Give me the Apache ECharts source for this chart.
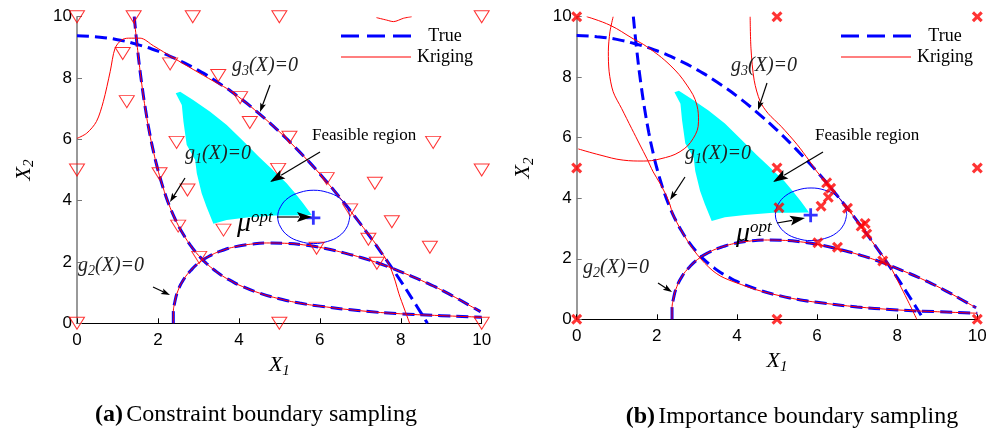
<!DOCTYPE html>
<html>
<head>
<meta charset="utf-8">
<script src="https://cdn.jsdelivr.net/npm/echarts@6/dist/echarts.min.js"></script>
<style>
	html, body { margin: 0; padding: 0; background: #fff; }
	#chart { width: 992px; height: 430px; }
</style>
</head>
<body>
<div id="chart"></div>
<script>
// axis ticks
const ticks = [0, 2, 4, 6, 8, 10];

// true limit state curves (x1, x2)
const g1True = [[1.414, 10], [1.5, 8.89], [1.6, 7.81], [1.7, 6.92], [1.8, 6.17], [1.9, 5.54], [2.0, 5.0], [2.1, 4.54], [2.2, 4.13], [2.3, 3.78], [2.4, 3.47], [2.5, 3.2], [2.6, 2.96], [2.8, 2.55], [3.0, 2.22], [3.2, 1.95], [3.4, 1.73], [3.6, 1.54], [3.8, 1.39], [4.0, 1.25], [4.5, 0.99], [5, 0.8], [5.5, 0.66], [6, 0.56], [7, 0.41], [8, 0.31], [9, 0.25], [10, 0.2]];
const g2True = [[2.38, 0], [2.38, 0.31], [2.42, 0.71], [2.5, 1.08], [2.63, 1.42], [2.81, 1.72], [3.02, 1.98], [3.28, 2.2], [3.58, 2.37], [3.92, 2.5], [4.29, 2.58], [4.69, 2.62], [5.13, 2.61], [5.59, 2.56], [6.07, 2.46], [6.56, 2.31], [7.08, 2.12], [7.6, 1.89], [8.13, 1.61], [8.67, 1.3], [9.2, 0.95], [9.73, 0.56], [9.97, 0.38]];
const g3True = [[0, 9.375], [0.5, 9.34], [1, 9.25], [1.5, 9.09], [2, 8.875], [2.5, 8.59], [3, 8.25], [3.5, 7.84], [4, 7.375], [4.5, 6.84], [5, 6.25], [5.5, 5.59], [6, 4.875], [6.5, 4.09], [7, 3.25], [7.5, 2.34], [8, 1.375], [8.3, 0.76], [8.5, 0.34], [8.66, 0]];

// kriging curves, panel (a)
const krigA_g1 = [[1.41, 10], [1.5, 8.9], [1.6, 7.8], [1.7, 6.9], [1.8, 6.15], [1.9, 5.54], [2.0, 5.0], [2.1, 4.55], [2.2, 4.13], [2.3, 3.78], [2.4, 3.47], [2.5, 3.2], [2.6, 2.96], [2.8, 2.55], [3.0, 2.22], [3.2, 1.95], [3.4, 1.73], [3.6, 1.54], [3.8, 1.39], [4.0, 1.25], [4.5, 0.99], [5, 0.8], [5.5, 0.66], [6, 0.56], [7, 0.41], [8, 0.31], [9, 0.25], [10, 0.2]];
const krigA_g2 = [[2.38, 0], [2.38, 0.31], [2.42, 0.71], [2.5, 1.08], [2.63, 1.42], [2.81, 1.72], [3.02, 1.98], [3.28, 2.2], [3.58, 2.37], [3.92, 2.5], [4.29, 2.58], [4.69, 2.62], [5.13, 2.61], [5.59, 2.56], [6.07, 2.46], [6.56, 2.31], [7.08, 2.12], [7.6, 1.89], [8.13, 1.61], [8.67, 1.3], [9.2, 0.95], [9.73, 0.56], [9.97, 0.38]];
const krigA_g3 = [[0, 6.03], [0.24, 6.2], [0.48, 6.58], [0.65, 7.23], [0.82, 8.21], [0.94, 8.97], [1.1, 9.24], [1.27, 9.3], [1.56, 9.3], [1.89, 9.05], [2.38, 8.66], [2.87, 8.28], [3.37, 7.9], [3.7, 7.66], [4.0, 7.38], [4.5, 6.84], [5, 6.25], [5.5, 5.59], [6, 4.875], [6.5, 4.09], [7, 3.25], [7.32, 2.7], [7.65, 2.06], [7.78, 1.7], [7.87, 1.35], [7.95, 0.98], [8.1, 0.43], [8.22, 0]];
const krigA_arc = [[7.4, 9.97], [7.65, 9.89], [7.82, 9.84], [8.07, 9.95], [8.27, 10]];

// kriging curves, panel (b)
const krigB_g1 = [[0.91, 10], [0.83, 9.5], [0.79, 8.84], [0.81, 8.18], [0.91, 7.52], [1.12, 6.97], [1.37, 6.31], [1.58, 5.76], [1.75, 5.32], [1.91, 4.87], [2.08, 4.49], [2.25, 4.05], [2.33, 3.78], [2.4, 3.47], [2.5, 3.2], [2.6, 2.96], [2.8, 2.52], [3.0, 2.15], [3.2, 1.85], [3.4, 1.6], [3.6, 1.42], [3.8, 1.3], [4.0, 1.2], [4.5, 0.97], [5, 0.8], [5.5, 0.66], [6, 0.56], [7, 0.41], [8, 0.31], [9, 0.25], [10, 0.2]];
const krigB_g2 = [[2.38, 0], [2.38, 0.31], [2.42, 0.71], [2.5, 1.08], [2.63, 1.42], [2.81, 1.72], [3.02, 1.98], [3.28, 2.2], [3.58, 2.37], [3.92, 2.5], [4.29, 2.58], [4.69, 2.62], [5.13, 2.61], [5.59, 2.56], [6.07, 2.46], [6.56, 2.31], [7.08, 2.12], [7.6, 1.89], [8.13, 1.61], [8.67, 1.3], [9.2, 0.95], [9.73, 0.56], [9.97, 0.38]];
const krigB_g3 = [[4.33, 10], [4.35, 8.96], [4.43, 7.9], [4.58, 7.2], [4.78, 6.8], [5.1, 6.38], [5.5, 5.78], [5.8, 5.25], [6.0, 4.875], [6.5, 4.09], [7, 3.25], [7.5, 2.34], [7.8, 1.8], [8.1, 1.05], [8.3, 0.52], [8.49, 0]];
const krigB_loop = [[0.25, 10], [0.83, 9.72], [1.41, 9.27], [1.75, 9.01], [2.33, 8.4], [2.75, 7.74], [3.0, 7.08], [3.04, 6.53], [2.91, 5.98], [2.58, 5.54], [2.08, 5.3], [1.66, 5.23], [1.16, 5.26], [0.58, 5.43], [0.04, 5.63]];

// feasible region outline
const feasible = [[2.44, 7.5], [2.55, 7.55], [2.87, 7.28], [3.29, 6.9], [3.7, 6.47], [4.1, 5.95], [4.5, 5.42], [4.8, 5.05], [5.18, 4.57], [5.39, 4.24], [5.59, 3.91], [5.8, 3.53], [5.3, 3.52], [4.9, 3.52], [4.2, 3.45], [3.7, 3.37], [3.37, 3.25], [3.2, 3.8], [3.08, 4.24], [2.96, 4.89], [2.92, 5.33], [2.71, 5.82], [2.63, 6.58], [2.59, 7.12]];

// contour around the optimum and the optimum itself
const optContour = [[6.74, 3.47], [6.67, 3.8], [6.48, 4.09], [6.19, 4.27], [5.85, 4.34], [5.51, 4.27], [5.22, 4.09], [5.03, 3.8], [4.96, 3.47], [5.03, 3.14], [5.22, 2.85], [5.51, 2.67], [5.85, 2.6], [6.19, 2.67], [6.48, 2.85], [6.67, 3.14], [6.74, 3.47]];
const muOpt = [[5.84, 3.44]];

// samples
const samplesA = [[0, 10], [1.4, 10], [2.86, 10], [5, 10], [10, 10], [1.13, 8.8], [2.3, 8.46], [3.49, 8.08], [4.03, 7.36], [4.27, 6.55], [1.23, 7.23], [2.46, 5.9], [5.25, 6.07], [8.8, 5.9], [0, 5], [2.04, 4.88], [4.97, 5.02], [6.17, 4.72], [7.36, 4.57], [10, 5], [2.73, 4.35], [2.5, 3.17], [3.62, 3.04], [3.02, 2.15], [6.75, 3.7], [7.78, 3.31], [7.2, 2.74], [8.72, 2.48], [5.92, 2.45], [7.41, 1.96], [0, 0], [5, 0], [10, 0]];
const samplesB = [[0, 10], [5, 10], [10, 10], [0, 5], [5, 5], [10, 5], [0, 0], [5, 0], [10, 0], [6.24, 4.51], [6.34, 4.33], [6.28, 4.03], [6.1, 3.74], [5.05, 3.69], [6.76, 3.67], [7.1, 3.08], [7.2, 3.17], [7.24, 2.82], [6.02, 2.53], [6.51, 2.38], [7.64, 1.93]];

const SERIF = "Liberation Serif";
const SANS = "Liberation Sans";
const trueStyle = { color: "#0000ff", width: 3, type: [12, 6] };
const krigStyle = { color: "#ff0000", width: 1 };

function curve(name, data, g, style, smooth) {
	return {
		name: name,
		type: "line",
		xAxisIndex: g,
		yAxisIndex: g,
		data: data,
		symbol: "none",
		smooth: smooth,
		silent: true,
		itemStyle: { color: style.color },
		lineStyle: style
	};
}

function region(g) {
	return {
		type: "custom",
		xAxisIndex: g,
		yAxisIndex: g,
		silent: true,
		data: [0],
		renderItem: function (params, api) {
			return {
				type: "polygon",
				shape: { points: feasible.map(function (p) { return api.coord(p); }) },
				style: { fill: "#00ffff" }
			};
		}
	};
}

const nameRich = {
	x: { fontFamily: SERIF, fontStyle: "italic", fontSize: 22, lineHeight: 26, color: "#000" },
	s: { fontFamily: SERIF, fontStyle: "italic", fontSize: 15, lineHeight: 15, verticalAlign: "bottom", color: "#000" }
};

function xAxis(g) {
	return {
		gridIndex: g, type: "value", min: 0, max: 10, interval: 2,
		name: "{x|X}{s|1}", nameLocation: "middle", nameGap: 24,
		nameTextStyle: { color: "#000", rich: nameRich },
		axisLine: { lineStyle: { color: "#000", width: 1 } },
		axisTick: { inside: true, length: 5, lineStyle: { color: "#000" } },
		axisLabel: { fontFamily: SANS, fontSize: 17, color: "#000", margin: 9 },
		splitLine: { show: false }
	};
}

function yAxis(g) {
	return {
		gridIndex: g, type: "value", min: 0, max: 10, interval: 2,
		name: "{x|X}{s|2}", nameLocation: "middle", nameGap: 40,
		nameTextStyle: { color: "#000", rich: nameRich },
		axisLine: { show: true, lineStyle: { color: "#777", width: 1.5 } },
		axisTick: { inside: true, length: 5, lineStyle: { color: "#777" } },
		axisLabel: { fontFamily: SANS, fontSize: 17, color: "#000", margin: 5 },
		splitLine: { show: false }
	};
}

function legend(left) {
	return {
		left: left, top: 22, orient: "vertical",
		itemWidth: 70, itemHeight: 14, itemGap: 3,
		selectedMode: false,
		data: [
			{ name: "True", icon: "path://M0,0H18V3H0Z M26,0H44V3H26Z M52,0H70V3H52Z", itemStyle: { color: "#0000ff" } },
			{ name: "Kriging", icon: "path://M0,0H70V1H0Z", itemStyle: { color: "#ff0000" } }
		],
		formatter: function (n) { return "{c|" + n + "}"; },
		textStyle: { rich: { c: { fontFamily: SERIF, fontSize: 18, lineHeight: 20, width: 58, align: "center", color: "#000" } } }
	};
}

// annotation helpers (pixel positions)
function label(x, y, sub) {
	return {
		type: "text", left: x, top: y, z: 100,
		style: {
			text: "{i|g}{s|" + sub + "}{i|(X)=0}",
			rich: {
				i: { fontFamily: SERIF, fontStyle: "italic", fontSize: 20, lineHeight: 24, fill: "#222" },
				s: { fontFamily: SERIF, fontStyle: "italic", fontSize: 14, lineHeight: 14, verticalAlign: "bottom", fill: "#222" }
			}
		}
	};
}

function arrow(x1, y1, x2, y2, len, wid) {
	const dx = x2 - x1, dy = y2 - y1;
	const d = Math.sqrt(dx * dx + dy * dy);
	const ux = dx / d, uy = dy / d;
	const bx = x2 - ux * len, by = y2 - uy * len;
	return [
		{ type: "line", z: 100, shape: { x1: x1, y1: y1, x2: bx + ux * 2, y2: by + uy * 2 }, style: { stroke: "#000", lineWidth: 1.2 } },
		{ type: "polygon", z: 100, shape: { points: [[x2, y2], [bx - uy * wid / 2, by + ux * wid / 2], [bx + ux * len * 0.2, by + uy * len * 0.2], [bx + uy * wid / 2, by - ux * wid / 2]] }, style: { fill: "#000" } }
	];
}

function mu(x, y) {
	return {
		type: "text", left: x, top: y, z: 100,
		style: {
			text: "{m|\u03bc}{o|opt}",
			rich: {
				m: { fontFamily: SERIF, fontStyle: "italic", fontSize: 28, lineHeight: 30, fill: "#000" },
				o: { fontFamily: SERIF, fontStyle: "italic", fontSize: 17, lineHeight: 17, verticalAlign: "top", fill: "#000" }
			}
		}
	};
}

function plain(x, y, t, size) {
	return { type: "text", left: x, top: y, z: 100, style: { text: t, fontFamily: SERIF, fontSize: size, fill: "#000" } };
}

function caption(cx, y, tag, rest) {
	return {
		type: "text", x: cx, y: y, z: 100,
		style: {
			text: "{b|" + tag + "} {r|" + rest + "}", align: "center", verticalAlign: "middle",
			rich: {
				b: { fontFamily: SERIF, fontWeight: "bold", fontSize: 24, fill: "#000" },
				r: { fontFamily: SERIF, fontSize: 24, fill: "#000" }
			}
		}
	};
}

const graphics = [].concat(
	label(232, 56, "3"), arrow(270, 85, 260, 112, 9, 6),
	plain(312, 127, "Feasible region", 17), arrow(320, 152, 270, 182, 15, 10),
	label(185, 144, "1"), arrow(185, 178, 170, 202, 9, 6),
	mu(237, 209), arrow(277, 217, 312, 217, 15, 10),
	label(78, 256, "2"), arrow(153, 287, 170, 295, 9, 6),
	label(731, 56, "3"), arrow(767, 83, 758, 110, 9, 6),
	plain(815, 127, "Feasible region", 17), arrow(823, 152, 773, 182, 15, 10),
	label(685, 144, "1"), arrow(685, 177, 670, 200, 9, 6),
	mu(736, 219), arrow(777, 223, 805, 218, 15, 10),
	label(583, 258, "2"), arrow(658, 283, 672, 292, 9, 6),
	caption(256, 415, "(a)", "Constraint boundary sampling"),
	caption(792, 417, "(b)", "Importance boundary sampling")
);

const chart = echarts.init(document.getElementById("chart"), null, { renderer: "canvas" });

const option = {
	animation: false,
	backgroundColor: "#fff",
	grid: [
		{ left: 77, top: 16.7, width: 404.7, height: 306.6 },
		{ left: 576.7, top: 16.7, width: 400.6, height: 302.6 }
	],
	xAxis: [xAxis(0), xAxis(1)],
	yAxis: [yAxis(0), yAxis(1)],
	legend: [legend(336), legend(836)],
	series: [
		region(0),
		curve("True", g1True, 0, trueStyle, true),
		curve("True", g2True, 0, trueStyle, true),
		curve("True", g3True, 0, trueStyle, true),
		curve("Kriging", krigA_g1, 0, krigStyle, true),
		curve("Kriging", krigA_g2, 0, krigStyle, true),
		curve("Kriging", krigA_g3, 0, krigStyle, 0.3),
		curve("Kriging", krigA_arc, 0, krigStyle, 0.3),
		curve("contour", optContour, 0, { color: "#0000ff", width: 1 }, 0.4),
		{
			name: "samples", type: "scatter", xAxisIndex: 0, yAxisIndex: 0, data: samplesA,
			symbol: "triangle", symbolRotate: 180, symbolSize: [15, 12], silent: true,
			itemStyle: { color: "rgba(0,0,0,0)", borderColor: "#ff0000", borderWidth: 1 }, z: 5
		},
		{
			name: "opt", type: "scatter", xAxisIndex: 0, yAxisIndex: 0, data: muOpt,
			symbol: "path://M4,0H6V4H10V6H6V10H4V6H0V4H4Z", symbolSize: 14, silent: true,
			itemStyle: { color: "#0000ff" }, z: 6
		},

		region(1),
		curve("True", g1True, 1, trueStyle, true),
		curve("True", g2True, 1, trueStyle, true),
		curve("True", g3True, 1, trueStyle, true),
		curve("Kriging", krigB_g1, 1, krigStyle, 0.3),
		curve("Kriging", krigB_g2, 1, krigStyle, true),
		curve("Kriging", krigB_g3, 1, krigStyle, 0.3),
		curve("Kriging", krigB_loop, 1, krigStyle, 0.4),
		curve("contour", optContour, 1, { color: "#0000ff", width: 1 }, 0.4),
		{
			name: "samples", type: "scatter", xAxisIndex: 1, yAxisIndex: 1, data: samplesB,
			symbol: "path://M2,0L5,3L8,0L10,2L7,5L10,8L8,10L5,7L2,10L0,8L3,5L0,2Z", symbolSize: 11, silent: true,
			itemStyle: { color: "#ff0000" }, z: 5
		},
		{
			name: "opt", type: "scatter", xAxisIndex: 1, yAxisIndex: 1, data: muOpt,
			symbol: "path://M4,0H6V4H10V6H6V10H4V6H0V4H4Z", symbolSize: 14, silent: true,
			itemStyle: { color: "#0000ff" }, z: 6
		}
	],
	graphic: graphics
};

chart.setOption(option);
</script>
</body>
</html>
